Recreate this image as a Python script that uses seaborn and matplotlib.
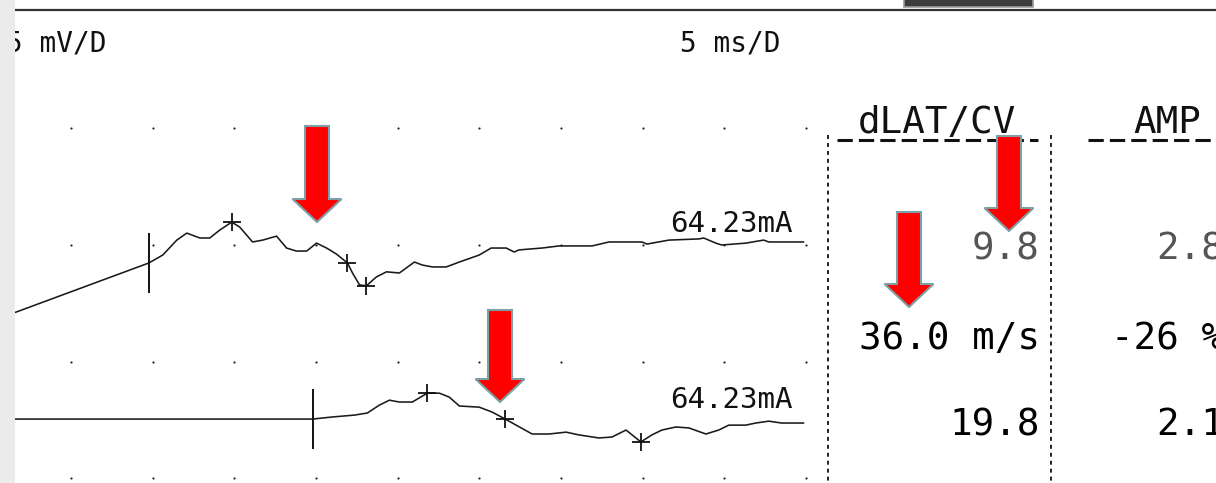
import numpy as np
import pandas as pd
import matplotlib.pyplot as plt
import matplotlib.transforms as mtransforms
from matplotlib.patches import Polygon, Rectangle
import seaborn as sns

# ==========================
# DATA (ms, mV relative to each channel baseline)
# ==========================
ch1_ms = [1.58, 9.77, 10.62, 11.48, 12.09, 12.89, 13.50, 14.11, 14.84, 15.33,
          16.12, 16.74, 17.59, 18.20, 18.81, 19.43, 20.04, 20.65, 21.26, 21.93,
          22.24, 22.67, 23.09, 23.70, 24.32, 25.11, 26.03, 26.52, 27.13, 27.98,
          28.78, 30.00, 30.73, 31.65, 32.14, 32.44, 33.85, 34.89, 36.91, 37.95,
          39.96, 40.27, 41.61, 43.45, 43.75, 44.49, 44.85, 46.32, 47.42, 47.73,
          49.87]
ch1_mv = [-2.12, 0.00, 0.34, 0.98, 1.28, 1.07, 1.07, 1.41, 1.75, 1.54,
          0.90, 0.98, 1.15, 0.64, 0.51, 0.51, 0.85, 0.64, 0.38, 0.00,
          -0.43, -0.94, -0.98, -0.60, -0.38, -0.43, 0.04, -0.09, -0.17, -0.17,
          0.04, 0.34, 0.64, 0.64, 0.47, 0.56, 0.64, 0.73, 0.73, 0.90,
          0.90, 0.81, 0.98, 1.03, 1.07, 0.85, 0.77, 0.85, 0.98, 0.90,
          0.90]

ch2_ms = [1.58, 19.79, 21.01, 22.36, 23.15, 23.89, 24.50, 25.11, 25.90, 26.82,
          27.56, 28.17, 28.78, 30.00, 30.79, 31.59, 32.26, 33.24, 34.28, 35.32,
          36.11, 37.33, 38.13, 38.99, 39.90, 40.57, 41.19, 42.04, 42.84, 43.88,
          44.67, 45.28, 46.32, 46.93, 47.73, 48.52, 49.87]
ch2_mv = [0.00, 0.00, 0.09, 0.17, 0.26, 0.60, 0.81, 0.73, 0.73, 1.11,
          1.11, 0.94, 0.56, 0.51, 0.30, 0.00, -0.26, -0.64, -0.64, -0.56,
          -0.68, -0.81, -0.77, -0.47, -0.98, -0.68, -0.47, -0.34, -0.38, -0.64,
          -0.47, -0.26, -0.26, -0.17, -0.09, -0.17, -0.17]

ch_baseline_mv = [-0.77, -7.46]
stim_ms = [9.77, 19.79]
marker_ms = [[14.84, 21.93, 23.09], [26.82, 31.59, 39.90]]
stim_labels = ["64.23mA", "64.23mA"]

table_headers = ["dLAT/CV", "AMP"]
dlat_values = ["9.8", "36.0 m/s", "19.8"]
amp_values = ["2.8", "-26 %", "2.1"]
row_colors = ["#555555", "black", "black"]

grid_ms = [5, 10, 15, 20, 25, 30, 35, 40, 45, 50]
grid_mv = [5, 0, -5, -10]

# ==========================
# FIGURE
# ==========================
sns.set_style("white")
plt.rcParams["font.family"] = ["DejaVu Sans Mono", "DejaVu Sans"]

W, H = 1216, 483
fig = plt.figure(figsize=(W / 100, H / 100), dpi=100)
fig.patch.set_facecolor("white")
px = mtransforms.Affine2D().scale(1 / W, -1 / H).translate(0, 1) + fig.transFigure

ax = fig.add_axes([0, 0, 1, 1])
ax.set_xlim(0.652, 75.12)
ax.set_ylim(-10.20, 10.50)
ax.axis("off")

# grid dots
gx, gy = np.meshgrid(grid_ms, grid_mv)
ax.scatter(gx.ravel(), gy.ravel(), s=2.5, color="#222222", lw=0, zorder=1)

# traces
for i, (t, v) in enumerate([(ch1_ms, ch1_mv), (ch2_ms, ch2_mv)]):
    base = ch_baseline_mv[i]
    df = pd.DataFrame({"ms": t, "mV": np.array(v) + base})
    sns.lineplot(data=df, x="ms", y="mV", estimator=None, sort=False,
                 color="#1a1a1a", lw=1.15, ax=ax, zorder=3)
    mk = pd.DataFrame({"ms": marker_ms[i],
                       "mV": np.interp(marker_ms[i], t, v) + base})
    sns.scatterplot(data=mk, x="ms", y="mV", marker="+", s=150,
                    color="#111111", linewidth=1.3, ax=ax, zorder=4)
    ax.vlines(stim_ms[i], base - 1.29, base + 1.29, color="#111111",
              lw=1.4, zorder=4)
    ax.text(49.2, base + [1.33, 0.49][i], stim_labels[i], ha="right",
            va="baseline", fontsize=21, color="#111111", zorder=5)
ax.set_xlabel("")
ax.set_ylabel("")

# ==========================
# SCREEN FRAME
# ==========================
fig.add_artist(plt.Line2D([15, W], [10, 10], transform=px, color="#333333", lw=1.6))
fig.add_artist(Rectangle((904, -3), 129, 10, transform=px, facecolor="#3c3c3c",
                         edgecolor="#9a9a9a", lw=1.2, zorder=2))
fig.text(6, 52, "5 mV/D", transform=px, fontsize=20, color="#111111", va="baseline")
fig.text(680, 52, "5 ms/D", transform=px, fontsize=20, color="#111111", va="baseline")
fig.add_artist(Rectangle((0, 0), 15, H, transform=px, facecolor="#ebebeb",
                         edgecolor="none", zorder=4))

# ==========================
# TABLE
# ==========================
fig.text(937, 133, table_headers[0], transform=px, fontsize=27, ha="center",
         va="baseline", color="#111111")
fig.text(1167, 133, table_headers[1], transform=px, fontsize=27, ha="center",
         va="baseline", color="#111111")
for x0, x1 in [(837, 1038), (1088, W)]:
    fig.add_artist(plt.Line2D([x0, x1], [140, 140], transform=px, color="#111111",
                              lw=2.2, ls=(0, (5, 2))))
for x in [828, 1051]:
    fig.add_artist(plt.Line2D([x, x], [135, H], transform=px, color="#111111",
                              lw=1.3, ls=(0, (2.2, 2.2))))
row_base = [260, 349, 435]
for i in range(3):
    fig.text(1040, row_base[i], dlat_values[i], transform=px, fontsize=27,
             ha="right", va="baseline", color=row_colors[i])
    fig.text(1224, row_base[i], amp_values[i], transform=px, fontsize=27,
             ha="right", va="baseline", color=row_colors[i])

# ==========================
# RED ARROWS
# ==========================
def arrow(tip_x, tip_y, top_y, shaft=24, head=49, head_len=23):
    hb = tip_y - head_len
    pts = [(tip_x - shaft / 2, top_y), (tip_x + shaft / 2, top_y),
           (tip_x + shaft / 2, hb), (tip_x + head / 2, hb), (tip_x, tip_y),
           (tip_x - head / 2, hb), (tip_x - shaft / 2, hb)]
    fig.add_artist(Polygon(pts, closed=True, transform=px, facecolor="#ff0000",
                           edgecolor="#7d9fa6", lw=1.5, zorder=6))

arrow(317, 222, 126)
arrow(500, 402, 310)
arrow(1009, 231, 136)
arrow(909, 307, 212)

fig.savefig("out.png", dpi=100)
